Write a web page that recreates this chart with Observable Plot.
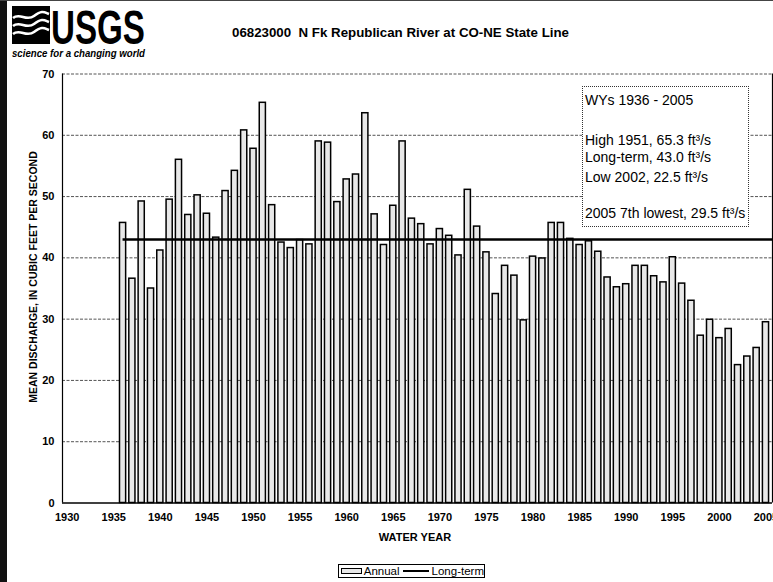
<!DOCTYPE html>
<html>
<head>
<meta charset="utf-8">
<script src="https://cdn.jsdelivr.net/npm/d3@7"></script>
<script src="https://cdn.jsdelivr.net/npm/@observablehq/plot@0.6"></script>
<style>
html, body { margin: 0; padding: 0; background: #fff; }
#page { position: relative; width: 773px; height: 582px; overflow: hidden;
  font-family: "Liberation Sans", Arial, Helvetica, sans-serif; color: #000; }
#chart { position: absolute; left: 0; top: 0; z-index: 0; }
.abs { position: absolute; z-index: 2; white-space: nowrap; }
#strip { left: 0; top: 0; width: 7px; height: 582px; background: #111; }
#topline { left: 0; top: 0; width: 773px; height: 1px; background: #444; }
#logo { left: 10px; top: 0px; overflow: visible; }
#title { left: 232px; top: 25px; font-size: 13.3px; font-weight: bold; }
#ylabel { left: 33px; top: 276.5px; font-size: 10.5px; font-weight: bold;
  transform: translate(-50%, -50%) rotate(-90deg); }
#xlabel { left: 415px; top: 531px; font-size: 11px; font-weight: bold; transform: translateX(-50%); }
#note { left: 582px; top: 86px; width: 165px; height: 139px; background: #fff;
  border: 1px dotted #333; }
#note div { position: absolute; left: 2px; font-size: 14px; line-height: 14px; }
#legend { left: 338px; top: 564px; width: 145px; height: 12px; border: 1px solid #000;
  display: flex; align-items: center; font-size: 11.5px; line-height: 12px; }
#legend .sw { display: inline-block; }
</style>
</head>
<body>
<div id="page">
  <div id="chart"></div>
  <div class="abs" id="strip"></div>
  <div class="abs" id="topline"></div>
  <svg class="abs" id="logo" width="150" height="64" viewBox="0 0 150 64">
    <rect x="2" y="6" width="38" height="38" fill="#000"/>
    <path d="M3 18 C 10 12, 16 22, 24 16 S 34 12, 39 14" stroke="#fff" stroke-width="2.6" fill="none"/>
    <path d="M3 26 C 10 20, 16 30, 24 24 S 34 20, 39 22" stroke="#fff" stroke-width="2.6" fill="none"/>
    <path d="M3 34 C 10 28, 16 38, 24 32 S 34 28, 39 30" stroke="#fff" stroke-width="2.6" fill="none"/>
    <text x="41" y="44" font-family="Liberation Sans Narrow, Liberation Sans, Arial" font-weight="bold"
      font-size="49" textLength="94" lengthAdjust="spacingAndGlyphs">USGS</text>
    <text x="2" y="57" font-family="Liberation Sans Narrow, Liberation Sans, Arial" font-weight="bold"
      font-style="italic" font-size="10.5" textLength="133" lengthAdjust="spacingAndGlyphs">science for a changing world</text>
  </svg>
  <div class="abs" id="title">06823000&nbsp; N Fk Republican River at CO-NE State Line</div>
  <div class="abs" id="ylabel">MEAN DISCHARGE, IN CUBIC FEET PER SECOND</div>
  <div class="abs" id="xlabel">WATER YEAR</div>
  <div class="abs" id="note">
    <div style="top:6px">WYs 1936 - 2005</div>
    <div style="top:46px">High 1951, 65.3 ft³/s</div>
    <div style="top:63px">Long-term, 43.0 ft³/s</div>
    <div style="top:83px">Low 2002, 22.5 ft³/s</div>
    <div style="top:119px">2005 7th lowest, 29.5 ft³/s</div>
  </div>
  <div class="abs" id="legend">
    <span class="sw" style="margin-left:2px;width:23px;height:4px;border:1.5px solid #000;background:#e8e8e8"></span>
    <span style="margin-left:2px">Annual</span>
    <span class="sw" style="margin-left:3px;width:32px;height:1.5px;background:#000"></span>
    <span style="margin-left:3px">Long-term</span>
  </div>
</div>
<script>
// Water years (categories)
const years = [
  1936, 1937, 1938, 1939, 1940, 1941, 1942, 1943, 1944, 1945,
  1946, 1947, 1948, 1949, 1950, 1951, 1952, 1953, 1954, 1955,
  1956, 1957, 1958, 1959, 1960, 1961, 1962, 1963, 1964, 1965,
  1966, 1967, 1968, 1969, 1970, 1971, 1972, 1973, 1974, 1975,
  1976, 1977, 1978, 1979, 1980, 1981, 1982, 1983, 1984, 1985,
  1986, 1987, 1988, 1989, 1990, 1991, 1992, 1993, 1994, 1995,
  1996, 1997, 1998, 1999, 2000, 2001, 2002, 2003, 2004, 2005
];
// Annual mean discharge, ft3/s
const discharge = [
  45.7, 36.6, 49.2, 35.0, 41.2, 49.5, 56.0, 47.0, 50.2, 47.2,
  43.3, 50.9, 54.2, 60.8, 57.8, 65.3, 48.6, 42.5, 41.6, 42.9,
  42.2, 59.0, 58.8, 49.1, 52.8, 53.6, 63.6, 47.1, 42.1, 48.5,
  59.0, 46.4, 45.5, 42.2, 44.7, 43.6, 40.4, 51.1, 45.1, 40.9,
  34.1, 38.7, 37.1, 29.8, 40.2, 39.9, 45.7, 45.7, 43.1, 42.1,
  42.7, 41.0, 36.8, 35.2, 35.7, 38.7, 38.7, 37.0, 36.0, 40.1,
  35.8, 33.0, 27.3, 29.9, 26.9, 28.4, 22.5, 23.9, 25.3, 29.5
];
const longTerm = 43.0;
const xTicks = [1930, 1935, 1940, 1945, 1950, 1955, 1960, 1965, 1970, 1975, 1980, 1985, 1990, 1995, 2000, 2005];
const yTicks = [0, 10, 20, 30, 40, 50, 60, 70];
const gridTicks = [10, 20, 30, 40, 50, 60, 70];
const xDomain = [1929.5, 2005.7];
const yDomain = [0, 70];

const data = years.map((year, i) => ({year, value: discharge[i]}));
const halfBar = 0.33;

const chart = Plot.plot({
  width: 773,
  height: 530,
  marginLeft: 62,
  marginRight: 1,
  marginTop: 73.5,
  marginBottom: 27.5,
  style: {
    fontFamily: '"Liberation Sans", Arial, Helvetica, sans-serif',
    fontSize: "11px",
    fontWeight: "bold",
    color: "#000",
    background: "transparent",
    overflow: "hidden"
  },
  x: {domain: xDomain, ticks: xTicks, tickFormat: d => String(d), tickSize: 0, tickPadding: 10, label: null},
  y: {domain: yDomain, ticks: yTicks, tickSize: 0, tickPadding: 8, label: null},
  marks: [
    Plot.gridY(gridTicks, {stroke: "#111", strokeOpacity: 0.9, strokeWidth: 0.8, strokeDasharray: "3,1.5"}),
    Plot.rectY(data, {
      x1: d => d.year - halfBar,
      x2: d => d.year + halfBar,
      y: "value",
      fill: "#e8e8e8",
      stroke: "#000",
      strokeWidth: 1.5
    }),
    Plot.ruleY([longTerm], {x1: years[0], x2: xDomain[1], stroke: "#000", strokeWidth: 2.6}),
    Plot.ruleX([xDomain[0], xDomain[1]], {stroke: "#000", strokeWidth: 1.2}),
    Plot.ruleY([yDomain[0]], {stroke: "#000", strokeWidth: 1.5})
  ]
});
document.getElementById("chart").appendChild(chart);
</script>
</body>
</html>
